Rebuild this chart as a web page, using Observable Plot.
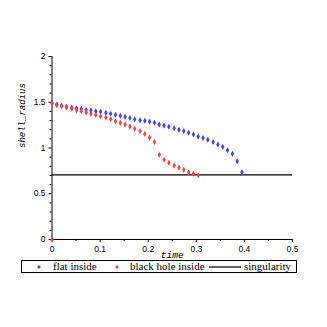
<!DOCTYPE html>
<html>
<head>
<meta charset="utf-8">
<script src="https://cdn.jsdelivr.net/npm/d3@7"></script>
<script src="https://cdn.jsdelivr.net/npm/@observablehq/plot@0.6"></script>
<style>
  html, body { margin: 0; padding: 0; background: #fff; width: 327px; height: 327px; overflow: hidden; }
  #wrap { position: relative; width: 327px; height: 327px; }
  #legend { position: absolute; left: 21px; top: 260px; width: 274px; height: 11px; border: 1px solid #000;
            font-family: "Liberation Serif", serif; font-size: 11px; color: #000; box-sizing: content-box; background: #fff; }
  #legend .item { position: absolute; top: -1px; line-height: 12px; white-space: nowrap; }
  #legend svg { position: absolute; }
</style>
</head>
<body>
<div id="wrap"></div>
<script>
// ---- data ----
const blueTime = [0, 0.010, 0.020, 0.030, 0.041, 0.051, 0.061, 0.071, 0.081, 0.091,
  0.101, 0.112, 0.122, 0.132, 0.142, 0.152, 0.162, 0.172, 0.183, 0.193,
  0.203, 0.213, 0.223, 0.233, 0.243, 0.254, 0.264, 0.274, 0.284, 0.294,
  0.304, 0.314, 0.324, 0.335, 0.345, 0.355, 0.365, 0.375, 0.385, 0.395];
const blueRadius = [1.494, 1.475, 1.464, 1.454, 1.443, 1.435, 1.428, 1.417, 1.410, 1.402,
  1.396, 1.385, 1.374, 1.363, 1.352, 1.341, 1.328, 1.315, 1.304, 1.297,
  1.286, 1.275, 1.257, 1.246, 1.232, 1.216, 1.199, 1.186, 1.167, 1.148,
  1.126, 1.109, 1.091, 1.066, 1.038, 1.013, 0.976, 0.937, 0.856, 0.736];
const redTime = [0, 0, 0.010, 0.020, 0.030, 0.041, 0.051, 0.061, 0.071, 0.081, 0.091,
  0.101, 0.112, 0.122, 0.132, 0.142, 0.152, 0.162, 0.172, 0.183, 0.193,
  0.203, 0.213, 0.223, 0.233, 0.243, 0.254, 0.264, 0.274, 0.284, 0.294, 0.304];
const redRadius = [0, 1.490, 1.468, 1.457, 1.443, 1.428, 1.413, 1.402, 1.388, 1.374, 1.363,
  1.348, 1.333, 1.315, 1.293, 1.275, 1.257, 1.235, 1.210, 1.186, 1.153,
  1.115, 1.066, 0.927, 0.871, 0.839, 0.809, 0.784, 0.762, 0.736, 0.718, 0.703];
const singularity = 0.707;
const xTicks = [0, 0.1, 0.2, 0.3, 0.4, 0.5];
const xMinor = [0.05, 0.15, 0.25, 0.35, 0.45];
const yTicks = [0, 0.5, 1, 1.5, 2];
const yMinor = [0.1,0.2,0.3,0.4,0.6,0.7,0.8,0.9,1.1,1.2,1.3,1.4,1.6,1.7,1.8,1.9];
const seriesNames = ["flat inside", "black hole inside", "singularity"];
const xLabel = "time";
const yLabel = "shell_radius";
const blueColor = "#4040ff";
const redColor = "#ff4040";

const blue = blueTime.map((t, i) => ({t, r: blueRadius[i]}));
const red = redTime.map((t, i) => ({t, r: redRadius[i]}));
const fmt = d3.format("~g");

const chart = Plot.plot({
  width: 327,
  height: 270,
  marginLeft: 51.5,
  marginRight: 35,
  marginTop: 56,
  marginBottom: 31,
  style: { fontFamily: "Liberation Sans, Arial, sans-serif", fontSize: "8.5px", background: "#fff", color: "#000" },
  x: { domain: [0, 0.5] },
  y: { domain: [0, 2] },
  marks: [
    Plot.axisX({ ticks: xTicks, tickSize: 3, tickPadding: 3, tickFormat: fmt, label: null, stroke: "#000" }),
    Plot.axisX({ ticks: xMinor, tickSize: 2, text: null, label: null }),
    Plot.axisY({ ticks: yTicks, tickSize: 3, tickPadding: 3.5, tickFormat: fmt, label: null }),
    Plot.axisY({ ticks: yMinor, tickSize: 2, text: null, label: null }),
    Plot.ruleY([0], { stroke: "#000", strokeWidth: 1 }),
    Plot.ruleX([0], { stroke: "#000", strokeWidth: 1 }),
    Plot.ruleY([singularity], { stroke: "#000", strokeWidth: 1.3 }),
    Plot.dot(blue, { x: "t", y: "r", symbol: "diamond", r: 1.8, fill: blueColor }),
    Plot.dot(red, { x: "t", y: "r", symbol: "diamond", r: 1.8, fill: redColor }),
    Plot.text([xLabel], { frameAnchor: "bottom", dy: 18, text: d => d, fontStyle: "italic",
      fontFamily: "Liberation Mono, monospace", fontSize: 9.5 }),
    Plot.text([yLabel], { frameAnchor: "left", dx: -30, rotate: -90, text: d => d, fontStyle: "italic",
      fontFamily: "Liberation Mono, monospace", fontSize: 9 })
  ]
});

const wrap = document.getElementById("wrap");
wrap.appendChild(chart);

// legend
const legend = document.createElement("div");
legend.id = "legend";
const diamond = (color, left) =>
  `<svg width="6" height="6" style="left:${left}px;top:3px" viewBox="-3 -3 6 6"><path d="M0,-1.9L1.9,0L0,1.9L-1.9,0Z" fill="${color}"/></svg>`;
legend.innerHTML =
  diamond(blueColor, 14) +
  `<span class="item" style="left:31px">${seriesNames[0]}</span>` +
  diamond(redColor, 92) +
  `<span class="item" style="left:108px">${seriesNames[1]}</span>` +
  `<svg width="34" height="4" style="left:187px;top:4px"><line x1="0" x2="32" y1="2" y2="2" stroke="#000" stroke-width="1.2"/></svg>` +
  `<span class="item" style="left:222px">${seriesNames[2]}</span>`;
wrap.appendChild(legend);
</script>
</body>
</html>
